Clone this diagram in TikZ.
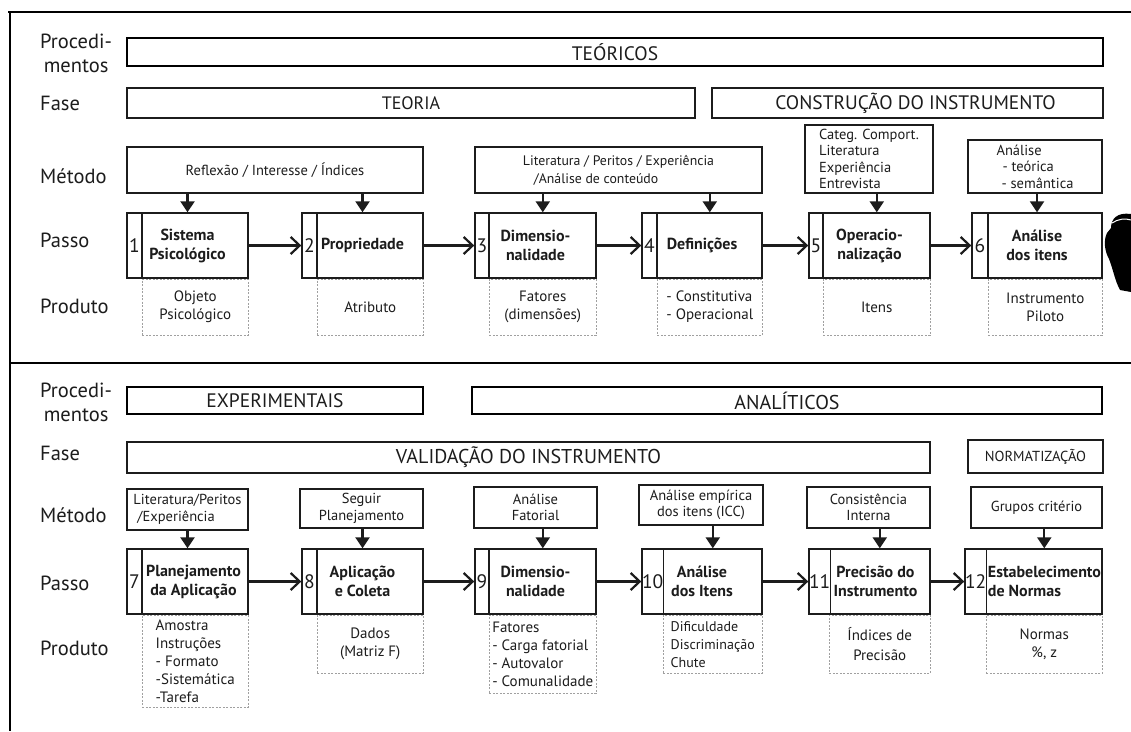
\documentclass[tikz,border=0pt]{standalone}
\usepackage{fontspec}
\setmainfont{PT Sans}
\usetikzlibrary{arrows.meta,positioning,calc}

\definecolor{ink}{HTML}{1C1C1C}
\definecolor{dashgray}{HTML}{A0A0A0}

\begin{document}
\begin{tikzpicture}[x=1pt,y=-1pt,font=\fontsize{15}{18}\selectfont,text=ink]
\tikzstyle{rowlabel} = [anchor=west, inner sep=0pt, align=center, font=\fontsize{20.5}{24}\selectfont]
\tikzstyle{proc} = [rectangle, draw=black, line width=2.4pt, inner sep=0pt, font=\fontsize{19.5}{20}\selectfont]
\tikzstyle{phase} = [rectangle, draw=ink, line width=1.4pt, inner sep=0pt, font=\fontsize{18}{20}\selectfont]
\tikzstyle{method} = [rectangle, draw=ink, line width=1.4pt, align=center, inner sep=0pt, font=\fontsize{14.5}{16.5}\selectfont]
\tikzstyle{stepbox} = [rectangle, draw=ink, line width=1.4pt, align=center, minimum height=65pt, inner sep=0pt, font=\bfseries\fontsize{16}{19}\selectfont]
\tikzstyle{stepnum} = [rectangle, draw=ink, line width=1.4pt, anchor=west, minimum height=65pt, inner sep=0pt, font=\fontsize{19.5}{20}\selectfont]
\tikzstyle{product} = [rectangle, draw=dashgray, dash pattern=on 2pt off 1.5pt, line width=0.9pt, anchor=north east, align=center, inner sep=0pt]
\tikzstyle{down} = [-{Triangle[length=11pt,width=14pt]}, line width=2.2pt, draw=ink]
\tikzstyle{next} = [-{Straight Barb[length=9pt,width=17pt,line width=2.2pt]}, line width=2.6pt, draw=ink]
\useasboundingbox (0,0) rectangle (1131,731);

% frame
\draw[line width=2.6pt] (8,12) -- (1131,12);
\draw[line width=2.2pt] (10,12) -- (10,731);
\draw[line width=1.6pt] (10,363) -- (1131,363);

% row labels, upper half
\node[rowlabel] (procA) at (40,53) {Procedi-\\mentos};
\node[rowlabel, anchor=base west] (faseA) at (40,110) {Fase};
\node[rowlabel, anchor=base west] (metA) at (40,183) {Método};
\node[rowlabel, anchor=base west] (passoA) at (40,247) {Passo};
\node[rowlabel, anchor=base west] (prodA) at (40,313) {Produto};

\node[proc, minimum width=976pt, minimum height=28pt] (teor) at (615,52) {TEÓRICOS};
\node[phase, minimum width=568pt, minimum height=30pt] (teoria) at (411,103) {TEORIA};
\node[phase, minimum width=391pt, minimum height=30pt, font=\fontsize{19.5}{20}\selectfont] (constr) at (907.5,103) {\hspace*{16pt}CONSTRUÇÃO DO INSTRUMENTO};

\node[method, minimum width=296pt, minimum height=46pt] (m1) at (275,170) {Reflexão / Interesse / Índices};
\node[method, minimum width=287pt, minimum height=46pt, align=left, font=\fontsize{13.8}{18}\selectfont] (m2) at (618.5,170) {Literatura / Peritos / Experiência\\\hspace*{11pt}/Análise de conteúdo};
\node[method, minimum width=128pt, minimum height=68pt, align=left] (m3) at (869,159) {Categ. Comport.\\Literatura\\Experiência\\Entrevista};
\node[method, minimum width=134pt, minimum height=53pt, align=left] (m4) at (1035,166.5) {Análise\\\hspace*{6pt}- teórica\\\hspace*{5pt}- semântica};

\node[stepbox, minimum width=121pt] (s1) at (187.5,245.5) {Sistema\\Psicológico};
\node[stepnum, minimum width=15pt] (n1) at (s1.west) {1};
\node[stepbox, minimum width=121pt] (s2) at (362.5,245.5) {Propriedade};
\node[stepnum, minimum width=15pt] (n2) at (s2.west) {2};
\node[stepbox, minimum width=121pt] (s3) at (535.5,245.5) {Dimensio-\\nalidade};
\node[stepnum, minimum width=14pt] (n3) at (s3.west) {3};
\node[stepbox, minimum width=120pt] (s4) at (702,245.5) {Definições};
\node[stepnum, minimum width=15pt] (n4) at (s4.west) {4};
\node[stepbox, minimum width=121pt] (s5) at (869.5,245.5) {Operacio-\\nalização};
\node[stepnum, minimum width=14pt] (n5) at (s5.west) {5};
\node[stepbox, minimum width=130pt] (s6) at (1037,245.5) {Análise\\dos itens};
\node[stepnum, minimum width=16pt] (n6) at (s6.west) {6};

\node[product, minimum width=106pt, minimum height=56pt] (p1) at (s1.south east) {Objeto\\Psicológico};
\node[product, minimum width=106pt, minimum height=56pt] (p2) at (s2.south east) {Atributo};
\node[product, minimum width=107pt, minimum height=56pt] (p3) at (s3.south east) {Fatores\\(dimensões)};
\node[product, minimum width=105pt, minimum height=56pt, align=left] (p4) at (s4.south east) {- Constitutiva\\- Operacional};
\node[product, minimum width=107pt, minimum height=56pt] (p5) at (s5.south east) {Itens};
\node[product, minimum width=114pt, minimum height=56pt] (p6) at (s6.south east) {Instrumento\\Piloto};

\draw[down] (m1.south -| s1.north) -- (s1.north);
\draw[down] (m1.south -| s2.north) -- (s2.north);
\draw[down] (m2.south -| p3.north) -- (s3.north -| p3.north);
\draw[down] (m2.south -| p4.north) -- (s4.north -| p4.north);
\draw[down] (m3.south -| p5.north) -- (s5.north -| p5.north);
\draw[down] (m4.south -| s6.north) -- (s6.north);
\foreach \a/\b in {s1/n2,s2/n3,s3/n4,s4/n5,s5/n6}
  \draw[next] (\a.east) -- (\b.west);

% hand
\fill[black] (1131,214) .. controls (1117,212) and (1111,219) .. (1111,228) -- (1107,233)
  .. controls (1103,241) and (1105,252) .. (1109,259) .. controls (1113,269) and (1115,281) .. (1120,290) -- (1131,292) -- cycle;
\draw[white, line width=1pt] (1112,223) .. controls (1118,219) and (1125,218) .. (1131,220);

% row labels, lower half
\node[rowlabel] (procB) at (40,402) {Procedi-\\mentos};
\node[rowlabel, anchor=base west] (faseB) at (40,460) {Fase};
\node[rowlabel, anchor=base west] (metB) at (40,522) {Método};
\node[rowlabel, anchor=base west] (passoB) at (40,590) {Passo};
\node[rowlabel, anchor=base west] (prodB) at (40,655) {Produto};

\node[proc, minimum width=296pt, minimum height=27pt] (exper) at (275,400.5) {EXPERIMENTAIS};
\node[proc, minimum width=630pt, minimum height=27pt, font=\fontsize{20}{22}\selectfont] (analit) at (787,400.5) {ANALÍTICOS};
\node[phase, minimum width=803pt, minimum height=31pt, font=\fontsize{20}{22}\selectfont] (valid) at (528.5,457.5) {VALIDAÇÃO DO INSTRUMENTO};
\node[phase, minimum width=135pt, minimum height=33pt, font=\fontsize{14.5}{16}\selectfont] (norm) at (1035.5,456.5) {NORMATIZAÇÃO};

\node[method, minimum width=121pt, minimum height=41pt, align=left] (m7) at (187.5,509.5) {Literatura/Peritos\\\hspace*{4pt}/Experiência};
\node[method, minimum width=123pt, minimum height=39pt] (m8) at (361.5,508.5) {Seguir\\Planejamento};
\node[method, minimum width=123pt, minimum height=41pt] (m9) at (535.5,507.5) {Análise\\Fatorial};
\node[method, minimum width=124pt, minimum height=40pt] (m10) at (701,505) {Análise empírica\\dos itens (ICC)};
\node[method, minimum width=123pt, minimum height=41pt] (m11) at (868.5,507.5) {Consistência\\Interna};
\node[method, minimum width=131pt, minimum height=41pt] (m12) at (1036.5,507.5) {Grupos critério};

\node[stepbox, minimum width=121pt] (s7) at (187.5,581.5) {\hspace*{12pt}Planejamento\\\hspace*{12pt}da Aplicação};
\node[stepnum, minimum width=15pt] (n7) at (s7.west) {7};
\node[stepbox, minimum width=121pt] (s8) at (362.5,581.5) {Aplicação\\e Coleta};
\node[stepnum, minimum width=15pt] (n8) at (s8.west) {8};
\node[stepbox, minimum width=121pt] (s9) at (535.5,581.5) {Dimensio-\\nalidade};
\node[stepnum, minimum width=14pt] (n9) at (s9.west) {9};
\node[stepbox, minimum width=120pt] (s10) at (702,581.5) {Análise\\dos Itens};
\node[stepnum, minimum width=21pt] (n10) at (s10.west) {10};
\node[stepbox, minimum width=121pt] (s11) at (869.5,581.5) {\hspace*{12pt}Precisão do\\\hspace*{12pt}Instrumento};
\node[stepnum, minimum width=20pt] (n11) at (s11.west) {11};
\node[stepbox, minimum width=137pt, align=left] (s12) at (1033.5,581.5) {\hspace*{22pt}Estabelecimento\\\hspace*{22pt}de Normas};
\node[stepnum, minimum width=21pt] (n12) at (s12.west) {12};

\node[product, minimum width=106pt, minimum height=92pt, align=left] (p7) at (s7.south east) {Amostra\\Instruções\\- Formato\\-Sistemática\\-Tarefa};
\node[product, minimum width=106pt, minimum height=58pt] (p8) at (s8.south east) {Dados\\(Matriz F)};
\node[product, minimum width=107pt, minimum height=78pt, align=left] (p9) at (s9.south east) {Fatores\\- Carga fatorial\\- Autovalor\\- Comunalidade};
\node[product, minimum width=99pt, minimum height=58pt, align=left, font=\fontsize{14}{18}\selectfont] (p10) at (s10.south east) {Dificuldade\\Discriminação\\Chute};
\node[product, minimum width=101pt, minimum height=58pt, font=\fontsize{15}{20}\selectfont] (p11) at (s11.south east) {Índices de\\Precisão};
\node[product, minimum width=116pt, minimum height=58pt] (p12) at (s12.south east) {Normas\\\%, z};

\draw[down] (m7.south -| s7.north) -- (s7.north);
\draw[down] (m8.south -| s8.north) -- (s8.north);
\draw[down] (m9.south -| p9.north) -- (s9.north -| p9.north);
\draw[down] (m10.south -| p10.north) -- (s10.north -| p10.north);
\draw[down] (m11.south -| p11.north) -- (s11.north -| p11.north);
\draw[down] (m12.south -| p12.north) -- (s12.north -| p12.north);
\foreach \a/\b in {s7/n8,s8/n9,s9/n10,s10/n11,s11/n12}
  \draw[next] (\a.east) -- (\b.west);
\end{tikzpicture}
\end{document}
